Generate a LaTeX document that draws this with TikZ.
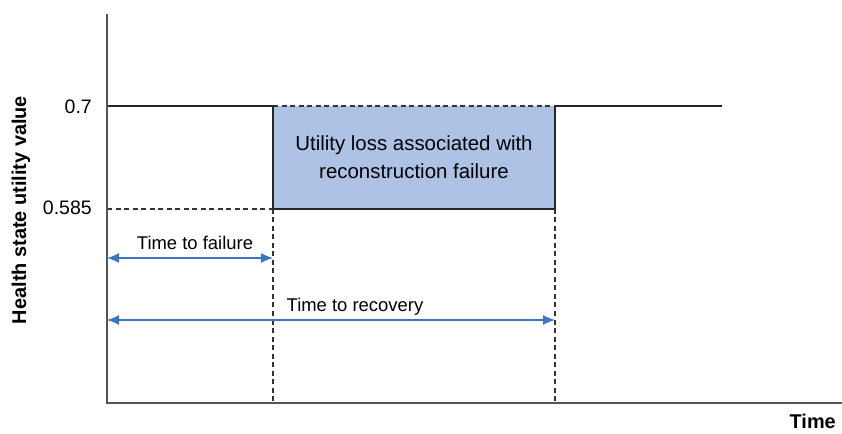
\documentclass[tikz,border=0pt]{standalone}
\usepackage{fontspec}
\setmainfont{Liberation Sans}
\usetikzlibrary{arrows.meta}
\usetikzlibrary{positioning}
\definecolor{lossblue}{HTML}{AEC2E6}
\definecolor{spanblue}{HTML}{3A76C0}
\definecolor{axisgray}{HTML}{555555}

\begin{document}
\begin{tikzpicture}[x=1bp,y=-1bp,
	axis/.style={draw=axisgray,line width=1.5bp},
	level/.style={draw=black!85,line width=1.1bp},
	guide/.style={draw=black!80,line width=1.1bp,dash pattern=on 5bp off 3.5bp},
	span/.style={draw=spanblue,line width=1.3bp,{Latex[length=12bp,width=10bp]}-{Latex[length=12bp,width=10bp]}},
	tick/.style={font=\fontsize{19.6}{23}\selectfont,inner sep=0pt,anchor=east},
	lbl/.style={font=\fontsize{18.5}{22}\selectfont,inner sep=0pt}]
					\useasboundingbox (0,0) rectangle (842,434);

					\coordinate (o) at (107,403);
					\coordinate (top) at (107,14);
					\coordinate (xend) at (842,403);
					\coordinate (hi0) at (107,106);
					\coordinate (hi1) at (273,106);
					\coordinate (hi2) at (555,106);
					\coordinate (hi3) at (722,106);
					\coordinate (lo0) at (107,209);
					\coordinate (lo1) at (273,209);
					\coordinate (lo2) at (555,209);
					\coordinate (b1) at (273,403);
					\coordinate (b2) at (555,403);
					\coordinate (f0) at (107,258);
					\coordinate (f1) at (273,258);
					\coordinate (r0) at (107,320);
					\coordinate (r1) at (555,320);

					\node[fill=lossblue,inner sep=0pt,outer sep=0pt,minimum width=282bp,minimum height=103bp,anchor=north west,align=center,font=\fontsize{20.5}{28.5}\selectfont] (loss) at (hi1) {Utility loss associated with\\reconstruction failure};

					\node[tick] (v07) at (92,107) {0.7};
					\node[tick] (v0585) at (92,208) {0.585};
					\node[rotate=90,inner sep=0pt,font=\fontsize{20}{24}\selectfont\bfseries] (ylab) at (21,210) {Health state utility value};
					\node[anchor=east,inner sep=0pt,font=\fontsize{20}{24}\selectfont\bfseries] (xlab) at (836,421) {Time};
					\node[lbl] (fail) at (195,243) {Time to failure};
					\node[lbl] (recov) at (355,307) {Time to recovery};

					\draw[level] (hi0) -- (hi1);
					\draw[guide] (hi1) -- (hi2);
					\draw[level] (hi2) -- (hi3);
					\draw[guide] (lo0) -- (lo1);
					\draw[level] (lo1) -- (lo2);
					\draw[level] (hi1) -- (lo1);
					\draw[level] (hi2) -- (lo2);
					\draw[guide] (lo1) -- (b1);
					\draw[guide] (lo2) -- (b2);
					\draw[span] (f0) -- (f1);
					\draw[span] (r0) -- (r1);
					\draw[axis] (top) -- (o) -- (xend);

				\end{tikzpicture}
\end{document}
